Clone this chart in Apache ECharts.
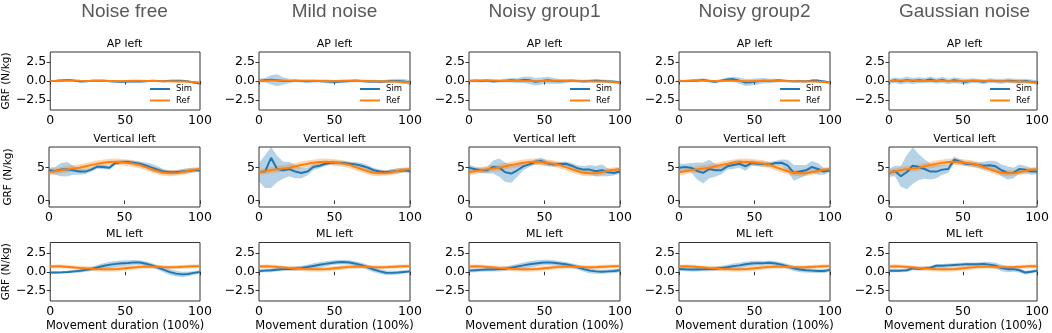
<!DOCTYPE html>
<html><head><meta charset="utf-8">
<script src="https://cdn.jsdelivr.net/npm/echarts@6/dist/echarts.min.js"></script>
<style>html,body{margin:0;padding:0;background:#fff}#c{width:1052px;height:333px}</style>
</head><body><div id="c"></div>
<script>
// ---------------- DATA ----------------
const colTitles = ['Noise free', 'Mild noise', 'Noisy group1', 'Noisy group2', 'Gaussian noise'];
const rowTitles = ['AP left', 'Vertical left', 'ML left'];
const xTicks = [0, 50, 100];
const apTicks = [-2.5, 0, 2.5];
const vtTicks = [0, 5];
const mlTicks = [-2.5, 0, 2.5];

const simX = [0,4,8,12,16,20,24,28,32,36,40,44,48,52,56,60,64,68,72,76,80,84,88,92,96,100];
const refX = [0,5,10,15,20,25,30,35,40,45,50,55,60,65,70,75,80,85,90,95,100];

// Reference (same in every column)
const refApMean = [0,0.02,0.05,0.05,0.02,0,0.02,0.02,0,-0.02,0,0.02,0.02,0,0,-0.02,-0.02,-0.05,-0.08,-0.12,-0.2];
const refApSd   = [0.12,0.12,0.12,0.12,0.12,0.12,0.12,0.12,0.12,0.12,0.12,0.12,0.12,0.12,0.12,0.12,0.12,0.12,0.12,0.12,0.12];
const refVtMean = [4.3,4.5,4.7,4.85,5.0,5.25,5.5,5.7,5.85,5.9,5.8,5.65,5.4,5.0,4.6,4.25,4.15,4.2,4.4,4.65,4.8];
const refVtSd   = [0.45,0.45,0.48,0.5,0.5,0.5,0.5,0.5,0.5,0.5,0.5,0.5,0.5,0.5,0.5,0.48,0.45,0.45,0.42,0.38,0.35];
const refMlMean = [0.7,0.72,0.68,0.6,0.5,0.45,0.38,0.33,0.32,0.38,0.48,0.58,0.65,0.7,0.68,0.62,0.6,0.62,0.68,0.72,0.75];
const refMlSd   = [0.25,0.25,0.25,0.25,0.25,0.28,0.3,0.3,0.3,0.3,0.3,0.3,0.28,0.25,0.25,0.25,0.25,0.25,0.25,0.25,0.25];

// Noise free
const nfApMean = [0,0.02,0.08,0.12,0.05,-0.08,-0.05,0.02,0.05,0.02,-0.02,-0.08,-0.1,-0.08,-0.05,-0.08,-0.02,0.02,0,-0.02,0.02,0.05,0.02,-0.05,-0.2,-0.35];
const nfApSd   = [0.1,0.1,0.12,0.15,0.12,0.1,0.1,0.1,0.1,0.1,0.12,0.15,0.15,0.12,0.1,0.1,0.1,0.1,0.1,0.1,0.1,0.1,0.1,0.12,0.12,0.1];
const nfVtMean = [4.6,4.5,4.7,4.75,4.6,4.4,4.4,4.7,5.15,5.1,5.0,5.7,5.85,5.85,5.75,5.6,5.35,5.0,4.7,4.4,4.3,4.3,4.4,4.5,4.6,4.6];
const nfVtSd   = [0.4,0.6,1.0,1.1,0.7,0.5,0.4,0.3,0.3,0.35,0.3,0.3,0.3,0.3,0.3,0.35,0.45,0.55,0.5,0.35,0.3,0.3,0.35,0.4,0.3,0.3];
const nfMlMean = [-0.1,-0.1,-0.08,-0.02,0.05,0.12,0.25,0.4,0.6,0.8,0.95,1.05,1.12,1.18,1.25,1.22,1.08,0.85,0.55,0.25,-0.05,-0.25,-0.35,-0.3,-0.15,-0.02];
const nfMlSd   = [0.15,0.15,0.15,0.18,0.2,0.22,0.25,0.3,0.35,0.38,0.4,0.4,0.38,0.35,0.32,0.3,0.3,0.3,0.32,0.35,0.38,0.38,0.35,0.3,0.25,0.2];

// Mild noise
const mnApMean = [0.05,0.1,0.15,0.1,0,0,0.05,0,-0.05,0,0,-0.05,-0.1,-0.1,-0.05,0,0.05,0,-0.05,-0.05,-0.1,-0.05,0,0,-0.05,-0.2];
const mnApSd   = [0.2,0.3,0.6,0.8,0.5,0.3,0.2,0.2,0.2,0.2,0.2,0.25,0.25,0.2,0.2,0.2,0.2,0.2,0.2,0.2,0.2,0.2,0.25,0.3,0.3,0.3];
const mnVtMean = [4.3,4.4,6.5,4.8,4.6,4.8,4.4,4.2,4.4,5.1,5.3,5.6,5.8,5.75,5.7,5.6,5.5,5.3,5.0,4.6,4.4,4.3,4.4,4.5,4.6,4.5];
const mnVtSd   = [1.4,2.5,4.6,2.0,1.3,1.1,1.0,0.8,0.6,0.45,0.4,0.35,0.3,0.3,0.3,0.3,0.35,0.4,0.4,0.35,0.3,0.3,0.35,0.4,0.35,0.3];
const mnMlMean = [0.1,0.15,0.2,0.28,0.35,0.38,0.42,0.5,0.62,0.78,0.92,1.05,1.18,1.28,1.3,1.22,1.08,0.88,0.6,0.3,0.05,-0.12,-0.15,-0.1,-0.02,0.05];
const mnMlSd   = [0.2,0.22,0.25,0.25,0.25,0.25,0.28,0.3,0.32,0.35,0.35,0.35,0.32,0.3,0.3,0.3,0.3,0.32,0.35,0.35,0.32,0.3,0.28,0.25,0.22,0.2];

// Noisy group1
const n1ApMean = [0,0.05,0,0.05,-0.05,0,0.05,0.1,0.05,0.15,0.1,-0.1,0,0.1,0,-0.05,0,0.05,0,-0.05,0,0.05,0,-0.05,-0.1,-0.2];
const n1ApSd   = [0.2,0.2,0.2,0.2,0.2,0.2,0.25,0.3,0.3,0.4,0.5,0.5,0.45,0.45,0.4,0.3,0.25,0.2,0.2,0.2,0.2,0.2,0.2,0.2,0.2,0.2];
const n1VtMean = [5.0,4.75,4.6,4.6,5.1,5.0,4.3,4.1,4.6,5.2,5.5,5.9,6.0,5.65,5.5,5.55,5.6,5.3,4.9,4.7,4.7,4.45,4.6,4.3,4.2,4.4];
const n1VtSd   = [0.5,0.4,0.4,0.5,1.0,1.4,1.5,1.4,1.0,0.6,0.4,0.4,0.5,0.4,0.35,0.3,0.35,0.4,0.45,0.5,0.7,0.8,0.9,0.6,0.4,0.3];
const n1MlMean = [0.15,0.2,0.25,0.3,0.3,0.35,0.4,0.55,0.7,0.85,1.0,1.1,1.2,1.25,1.2,1.1,1.0,0.85,0.6,0.35,0.15,0.05,0,0.05,0.1,0.2];
const n1MlSd   = [0.25,0.25,0.25,0.25,0.28,0.3,0.3,0.32,0.35,0.38,0.4,0.4,0.38,0.35,0.32,0.3,0.3,0.3,0.32,0.35,0.35,0.3,0.28,0.25,0.25,0.25];

// Noisy group2
const n2ApMean = [0,0,0.02,0.05,0.15,0,-0.1,0.05,0.2,0.25,0.05,-0.2,-0.15,-0.05,0.05,0,0.05,0.05,0,-0.05,0,-0.05,0.05,0.05,-0.05,-0.2];
const n2ApSd   = [0.15,0.15,0.15,0.2,0.2,0.2,0.2,0.2,0.25,0.3,0.4,0.45,0.45,0.4,0.35,0.3,0.25,0.2,0.15,0.15,0.15,0.15,0.15,0.15,0.15,0.15];
const n2VtMean = [5.0,5.1,5.0,4.5,4.2,4.8,4.6,4.6,5.2,5.4,5.6,5.2,5.7,5.6,5.55,5.5,5.7,5.75,5.3,4.2,4.4,4.6,5.1,4.8,4.4,4.6];
const n2VtSd   = [0.6,0.5,0.7,1.3,1.6,1.4,1.0,0.6,0.5,0.6,0.6,0.7,0.4,0.4,0.4,0.35,0.35,0.5,0.9,1.2,1.0,0.8,0.9,0.9,0.5,0.3];
const n2MlMean = [0.35,0.32,0.3,0.3,0.32,0.35,0.4,0.5,0.6,0.75,0.85,1.0,1.1,1.15,1.15,1.2,1.1,0.95,0.7,0.45,0.3,0.2,0.15,0.1,0.1,0.25];
const n2MlSd   = [0.25,0.25,0.25,0.25,0.25,0.28,0.3,0.3,0.32,0.35,0.35,0.35,0.35,0.32,0.3,0.3,0.3,0.3,0.32,0.35,0.35,0.3,0.28,0.25,0.25,0.25];

// Gaussian noise
const gnApMean = [-0.05,0.1,-0.05,0.15,0,0.1,0.05,0.2,0,0.15,-0.05,0.1,0,-0.1,0.05,0,-0.1,0.05,0,-0.05,0.05,0,-0.05,0,-0.1,-0.2];
const gnApSd   = [0.3,0.35,0.4,0.45,0.4,0.4,0.35,0.4,0.35,0.4,0.35,0.4,0.35,0.35,0.3,0.3,0.3,0.3,0.3,0.3,0.3,0.3,0.3,0.3,0.3,0.3];
const gnVtMean = [4.2,4.5,3.7,4.3,5.3,5.1,4.8,4.4,4.4,4.7,4.8,6.2,5.9,5.6,5.55,5.4,5.3,5.35,5.2,4.6,4.2,4.2,4.8,4.7,4.4,4.4];
const gnVtSd   = [0.6,0.8,1.6,2.6,2.8,2.0,1.5,1.2,1.0,0.8,0.6,0.5,0.4,0.35,0.4,0.4,0.6,0.7,0.8,0.9,1.0,0.8,0.7,0.6,0.5,0.4];
const gnMlMean = [0.15,0.15,0.15,0.2,0.45,0.4,0.45,0.55,0.8,0.8,0.85,0.9,0.95,1.0,1.0,1.0,1.05,0.95,0.8,0.5,0.35,0.35,0.2,-0.1,0,0.15];
const gnMlSd   = [0.2,0.2,0.2,0.22,0.25,0.25,0.25,0.25,0.25,0.25,0.25,0.25,0.25,0.25,0.25,0.25,0.3,0.35,0.4,0.42,0.4,0.35,0.3,0.25,0.22,0.2];

// ---------------- ASSEMBLY ----------------
const simCols = [
  [[nfApMean, nfApSd], [nfVtMean, nfVtSd], [nfMlMean, nfMlSd]],
  [[mnApMean, mnApSd], [mnVtMean, mnVtSd], [mnMlMean, mnMlSd]],
  [[n1ApMean, n1ApSd], [n1VtMean, n1VtSd], [n1MlMean, n1MlSd]],
  [[n2ApMean, n2ApSd], [n2VtMean, n2VtSd], [n2MlMean, n2MlSd]],
  [[gnApMean, gnApSd], [gnVtMean, gnVtSd], [gnMlMean, gnMlSd]]
];
const refRows = [[refApMean, refApSd], [refVtMean, refVtSd], [refMlMean, refMlSd]];
const rowTicks = [apTicks, vtTicks, mlTicks];
const rowRange = [[-3.86, 3.86], [-1.0, 8.15], [-3.9, 3.9]];

const FONT = 'DejaVu Sans';
const BLUE = '#1f77b4', ORANGE = '#ff7f0e';
const colLeft0 = 49, colStep = 210, plotW = 151;
const rowTop = [52, 147, 242.5], rowH = [58, 60, 59];

function fmtTick(v, decimals) {
  const s = decimals ? Math.abs(v).toFixed(1) : String(Math.abs(v));
  return (v < 0 ? '\u2212' : '') + s;
}

function bandSeries(gi, xs, m, s, color, op) {
  return {
    type: 'custom', xAxisIndex: gi, yAxisIndex: gi, silent: true, animation: false,
    data: [[xs[0], m[0]]],
    renderItem: function (params, api) {
      const up = xs.map((x, i) => api.coord([x, m[i] + s[i]]));
      const lo = xs.map((x, i) => api.coord([x, m[i] - s[i]])).reverse();
      const cs = params.coordSys;
      const pts = echarts.graphic.clipPointsByRect(up.concat(lo), {x: cs.x, y: cs.y, width: cs.width, height: cs.height});
      return {type: 'polygon', shape: {points: pts}, style: {fill: color, opacity: op, stroke: null}};
    }
  };
}

const grids = [], xAxes = [], yAxes = [], series = [], graphics = [], legends = [];

for (let c = 0; c < 5; c++) {
  const left = colLeft0 + c * colStep;
  graphics.push({type: 'text', x: left + plotW / 2, y: 12, style: {text: colTitles[c], fill: '#595959', font: '19px "Liberation Sans", Arial, sans-serif', textAlign: 'center', textVerticalAlign: 'middle'}});
  for (let r = 0; r < 3; r++) {
    const gi = grids.length;
    grids.push({left: left, top: rowTop[r], width: plotW, height: rowH[r], show: true, borderColor: '#333', borderWidth: 1, backgroundColor: 'transparent'});
    xAxes.push({
      type: 'value', gridIndex: gi, min: 0, max: 100, interval: 50,
      axisLine: {show: false}, splitLine: {show: false},
      axisTick: {show: true, length: 3.5, lineStyle: {color: '#333'}},
      axisLabel: {color: '#000', fontSize: 12.5, fontFamily: FONT, margin: 4},
      name: r === 2 ? 'Movement duration (100%)' : '', nameLocation: 'middle', nameGap: 19,
      nameTextStyle: {color: '#000', fontSize: 11.5, fontFamily: FONT}
    });
    const ticks = rowTicks[r];
    const dec = r !== 1;
    yAxes.push({
      type: 'value', gridIndex: gi, min: rowRange[r][0], max: rowRange[r][1],
      axisLine: {show: false}, splitLine: {show: false},
      axisTick: {show: true, length: 3.5, lineStyle: {color: '#333'}, customValues: ticks},
      axisLabel: {color: '#000', fontSize: 12.5, fontFamily: FONT, margin: 4, customValues: ticks, formatter: v => fmtTick(v, dec)},
      name: c === 0 ? 'GRF (N/kg)' : '', nameLocation: 'middle', nameGap: 35, nameRotate: 90,
      nameTextStyle: {color: '#000', fontSize: 10.5, fontFamily: FONT}
    });
    graphics.push({type: 'text', x: left + plotW / 2, y: rowTop[r] - 8, style: {text: rowTitles[r], fill: '#000', font: '11px "DejaVu Sans"', textAlign: 'center', textVerticalAlign: 'middle'}});

    const [sm, ss] = simCols[c][r];
    const [rm, rs] = refRows[r];
    series.push(bandSeries(gi, simX, sm, ss, BLUE, 0.33));
    series.push({type: 'line', name: 'Sim', xAxisIndex: gi, yAxisIndex: gi, data: simX.map((x, i) => [x, sm[i]]), symbol: 'none', lineStyle: {color: BLUE, width: 2}, itemStyle: {color: BLUE}, animation: false});
    series.push(bandSeries(gi, refX, rm, rs, ORANGE, 0.33));
    series.push({type: 'line', name: 'Ref', xAxisIndex: gi, yAxisIndex: gi, data: refX.map((x, i) => [x, rm[i]]), symbol: 'none', lineStyle: {color: ORANGE, width: 2}, itemStyle: {color: ORANGE}, animation: false});
  }
  legends.push({
    left: left + 101, top: 84.5, orient: 'vertical', padding: 0, itemGap: 2.5,
    itemWidth: 20, itemHeight: 2, icon: 'rect', selectedMode: false, data: ['Sim', 'Ref'],
    textStyle: {fontSize: 8.5, fontFamily: FONT, color: '#000', padding: [0, 0, 0, 1]}
  });
}

const chart = echarts.init(document.getElementById('c'), null, {renderer: 'canvas'});
chart.setOption({
  animation: false,
  backgroundColor: '#fff',
  grid: grids, xAxis: xAxes, yAxis: yAxes, series: series,
  legend: legends, graphic: graphics
});
</script>
</body></html>
